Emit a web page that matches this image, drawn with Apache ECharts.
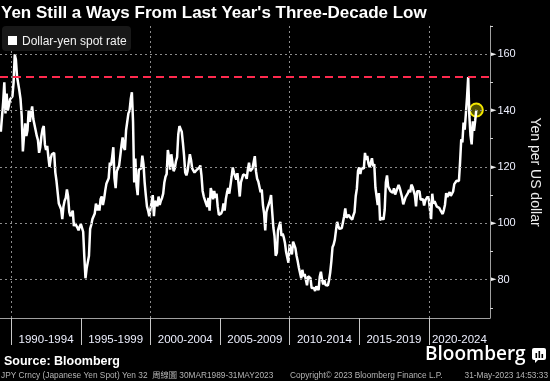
<!DOCTYPE html>
<html><head><meta charset="utf-8">
<script src="https://cdn.jsdelivr.net/npm/echarts@6/dist/echarts.min.js"></script>
<style>html,body{margin:0;padding:0;background:#000;}#c{width:550px;height:381px;}</style>
</head><body><div id="c"></div>
<script>
const chartTitle = "Yen Still a Ways From Last Year's Three-Decade Low";
const seriesName = 'Dollar-yen spot rate';
const yAxisName = 'Yen per US dollar';
const startYear = 1989, startMonth = 3;
// month-end dollar-yen values, Mar 1989 .. May 2023
const usdjpy = [
  132.5, 133, 143, 150, 139, 146, 140, 142, 144, 143.5,
  145, 150, 160, 158, 152, 152.5, 147, 144, 138, 125.5, 131, 135.5,
  131, 133, 140, 136, 139, 141.5, 137, 137, 133, 131, 129.5, 125,
  127, 131, 133.5, 134.5, 128, 126, 127.5, 123.5, 120, 123, 124.5, 124.5,
  125, 118, 115, 111, 107, 107, 105, 101.5, 106, 108, 109, 112,
  109.5, 104, 102.5, 103, 104.5, 99, 100, 100, 98.5, 97.5, 98.8, 99.7,
  99, 97, 88, 80.5, 84, 84.5, 88.5, 98, 99.5, 101.5, 101.5, 103.5,
  107, 104.5, 106.5, 104.5, 108.5, 109.5, 106.5, 108.5, 111.5, 114, 113.5, 116,
  121.5, 120.5, 123.5, 127, 116, 112.5, 118.5, 119, 120.5, 120.5, 127.5, 130.5,
  127, 126, 133, 132.5, 139, 140, 144, 146.5, 136, 114.5, 123, 113.5,
  110, 119, 119.5, 119.5, 124, 121, 114.5, 110, 106, 104.5, 102.5, 102,
  107.5, 110, 102.5, 108, 107.5, 106, 109.5, 106.5, 108, 109, 110.5, 114.5,
  116.5, 117.5, 126, 123.5, 119, 124.5, 125, 118.5, 119.5, 122, 123.5, 131.5,
  134.5, 133.5, 132.5, 128.5, 124, 118, 117, 118.5, 121.5, 124.5, 122.5, 119.5,
  119.5, 118, 118, 119, 119, 119.7, 120.5, 117, 111.5, 109.5, 109.7, 107,
  105.8, 109, 104.5, 112.5, 111, 108.5, 111.5, 109, 110.5, 106, 103, 102.5,
  103.5, 104.5, 107, 104.5, 108.5, 110.8, 112.5, 110.5, 113.5, 116.5, 119.8, 118,
  117.5, 115.5, 117.8, 114, 109.5, 114.5, 114.5, 117.3, 118, 117, 115.8, 119,
  121.5, 118.5, 117.8, 119.5, 121.7, 123.8, 118.5, 115.8, 114.8, 115.3, 111, 112,
  106.5, 103.5, 97.5, 104, 105.5, 106.2, 108, 110, 104, 98.5, 95.5, 88.5,
  89.5, 97.5, 99, 100.5, 95.5, 96.3, 95, 93, 89.8, 90.5, 86, 92.5,
  90.3, 89, 93.5, 94, 91.2, 88.5, 86.5, 84.2, 83.5, 80.5, 83.5, 81.2,
  82, 81.8, 78, 81.2, 81.5, 80.5, 77, 76.6, 77, 76, 77.6, 76.9,
  76.3, 81, 82.8, 80, 78.3, 79.8, 78.1, 78.4, 77.9, 79.8, 82.5, 86.5,
  91.5, 92.5, 94.2, 97.5, 100.5, 99, 98, 98.2, 98.3, 98.4, 102.4, 105.3,
  102, 101.8, 103, 102.2, 101.8, 101.3, 102.8, 104, 109.6, 112.3, 118.6, 119.8,
  117.5, 119.6, 120.1, 119.4, 125, 122.5, 123.9, 121.2, 119.9, 120.6, 123.1, 120.2,
  121, 112.7, 112.6, 106.5, 110.7, 101, 102, 101.5, 101.3, 104.8, 114.5, 117,
  113, 112.7, 111.4, 111.5, 110.8, 112.4, 110.2, 110.2, 112.5, 113.6, 112.5, 112.7,
  109.2, 106.7, 106.3, 109.3, 108.8, 110.7, 111.8, 111, 113.7, 112.9, 113.5, 110,
  106, 111.4, 110.9, 111.4, 108.3, 107.8, 108.6, 106.3, 108.1, 108, 109.5, 108.6,
  109, 101.5, 110.5, 107, 107.8, 107.9, 105.9, 105.9, 105.5, 104.7, 104.1, 103.3,
  104.7, 106.6, 110.7, 109.3, 109.6, 111.1, 109.7, 110, 111.3, 113.9, 113.2, 115.1,
  115.1, 115, 121.7, 129.8, 128.7, 135.7, 133.2, 138.9, 144.7, 151.9, 138, 131.1,
  128, 136.2, 132.8, 136.3, 140.2
];
const periodStarts = [1990, 1995, 2000, 2005, 2010, 2015, 2020];
const periodLabels = ['1990-1994', '1995-1999', '2000-2004', '2005-2009', '2010-2014', '2015-2019', '2020-2024'];
const gridYears = [1990, 2000, 2010, 2020];
const yLabelValues = [80, 100, 120, 140, 160];
const yMinorTicks = [70, 90, 110, 130, 150, 170];
const threeDecadeHigh = 151.95;
const xMin = 1989.19, xMax = 2024.4, yMin = 66.4, yMax = 170;

const seriesData = usdjpy.map((v, i) => [startYear + (startMonth + i) / 12, v]);
const lastPoint = seriesData[seriesData.length - 1];
const labelPos = periodStarts.map(s => (s + Math.min(s + 5, xMax)) / 2);

const gridDash = { color: '#8c8c8c', type: [2, 3], width: 1 };
const markData = []
  .concat(yLabelValues.map(v => ({ yAxis: v, lineStyle: gridDash })))
  .concat(gridYears.map(v => ({ xAxis: v, lineStyle: gridDash })));

const chart = echarts.init(document.getElementById('c'), null, { renderer: 'canvas' });
chart.setOption({
  backgroundColor: '#000',
  animation: false,
  textStyle: { fontFamily: '"Liberation Sans", Arial, sans-serif' },
  grid: { left: 0, right: 47, top: 26, bottom: 63, containLabel: false },
  xAxis: {
    type: 'value', min: xMin, max: xMax,
    axisLine: { show: true, onZero: false, lineStyle: { color: '#a0a0a0', width: 1 } },
    axisTick: { show: true, customValues: periodStarts, length: 27, lineStyle: { color: '#c8c8c8' } },
    axisLabel: {
      show: true, customValues: labelPos, margin: 16, color: '#eef0ff', fontSize: 11.5,
      fontFamily: '"Liberation Sans", sans-serif',
      formatter: v => { const k = labelPos.findIndex(p => Math.abs(p - v) < 0.01); return k >= 0 ? periodLabels[k] : ''; }
    },
    splitLine: { show: false }
  },
  yAxis: {
    type: 'value', position: 'right', min: yMin, max: yMax,
    name: yAxisName, nameLocation: 'middle', nameRotate: -90, nameGap: 38,
    nameTextStyle: { color: '#ececec', fontSize: 14 },
    axisLine: { show: true, lineStyle: { color: '#a0a0a0', width: 1 } },
    axisTick: { show: true, customValues: yMinorTicks, length: 3, inside: false, lineStyle: { color: '#d0d0d0' } },
    axisLabel: {
      show: true, customValues: yLabelValues, margin: 1,
      formatter: v => '{t|\u25BA}{v|' + v + '}',
      rich: {
        t: { fontSize: 7, color: '#eeeeee', fontFamily: '"DejaVu Sans", sans-serif', padding: [0, 1, 0, 0] },
        v: { fontSize: 11, color: '#eef0ff', fontFamily: '"Liberation Sans", sans-serif' }
      }
    },
    splitLine: { show: false }
  },
  series: [
    {
      name: 'grid', type: 'line', data: [], z: 1, silent: true,
      markLine: { silent: true, symbol: ['none', 'none'], label: { show: false }, animation: false, data: markData }
    },
    {
      name: 'high', type: 'line', data: [], z: 4, silent: true,
      markLine: { silent: true, symbol: ['none', 'none'], label: { show: false }, animation: false,
        data: [{ yAxis: threeDecadeHigh, lineStyle: { color: '#ff2a4e', type: [8, 5], width: 2 } }] }
    },
    {
      name: 'latest', type: 'scatter', data: [lastPoint], z: 2, silent: true,
      symbolSize: 13,
      itemStyle: { color: 'rgba(90,90,0,0.9)', borderColor: '#f2e600', borderWidth: 2, opacity: 1 }
    },
    {
      name: seriesName, type: 'line', data: seriesData, z: 3, showSymbol: false, symbol: 'none',
      color: '#ffffff', lineStyle: { color: '#ffffff', width: 2.5 }, sampling: null
    }
  ],
  graphic: [
    { type: 'text', x: 1, y: 13, silent: true,
      style: { text: chartTitle, fill: '#ffffff', fontSize: 17, fontWeight: 'bold', fontFamily: '"Liberation Sans", Arial, sans-serif', verticalAlign: 'middle', align: 'left' } },
    { type: 'rect', silent: true, z: 10, shape: { x: 2, y: 26, width: 129, height: 25, r: 4 }, style: { fill: '#181818' } },
    { type: 'rect', silent: true, z: 11, shape: { x: 8, y: 36, width: 9, height: 9 }, style: { fill: '#ffffff' } },
    { type: 'text', x: 22, y: 41.5, silent: true, z: 11,
      style: { text: seriesName, fill: '#f2f2f2', fontSize: 12, fontFamily: '"Liberation Sans", Arial, sans-serif', verticalAlign: 'middle', align: 'left' } },
    { type: 'text', x: 4, y: 362, silent: true,
      style: { text: 'Source: Bloomberg', fill: '#ffffff', fontSize: 12.5, fontWeight: 'bold', fontFamily: '"Liberation Sans", Arial, sans-serif', verticalAlign: 'middle', align: 'left' } },
    { type: 'text', x: 425, y: 355, silent: true,
      style: { text: 'Bloomberg', fill: '#ffffff', fontSize: 19, fontWeight: 600, fontFamily: '"Open Sans", sans-serif', verticalAlign: 'middle', align: 'left' } },
    { type: 'rect', silent: true, shape: { x: 532, y: 348, width: 14, height: 12, r: 2 }, style: { fill: '#ffffff' } },
    { type: 'polygon', silent: true, shape: { points: [[535, 359], [539, 359], [535, 363]] }, style: { fill: '#ffffff' } },
    { type: 'rect', silent: true, shape: { x: 535.5, y: 353, width: 1.6, height: 5 }, style: { fill: '#000' } },
    { type: 'rect', silent: true, shape: { x: 538.5, y: 351, width: 1.6, height: 7 }, style: { fill: '#000' } },
    { type: 'rect', silent: true, shape: { x: 541.5, y: 354, width: 1.6, height: 4 }, style: { fill: '#000' } },
    { type: 'text', x: 1, y: 375.5, silent: true,
      style: { text: 'JPY Crncy (Japanese Yen Spot) Yen 32  周線圖 30MAR1989-31MAY2023', fill: '#b4b4b4', fontSize: 8.3, fontFamily: '"Liberation Sans", "Noto Sans CJK TC", sans-serif', verticalAlign: 'middle', align: 'left' } },
    { type: 'text', x: 290, y: 375.5, silent: true,
      style: { text: 'Copyright\u00A9 2023 Bloomberg Finance L.P.', fill: '#b4b4b4', fontSize: 8.3, fontFamily: '"Liberation Sans", sans-serif', verticalAlign: 'middle', align: 'left' } },
    { type: 'text', x: 548, y: 375.5, silent: true,
      style: { text: '31-May-2023 14:53:33', fill: '#b4b4b4', fontSize: 8.3, fontFamily: '"Liberation Sans", sans-serif', verticalAlign: 'middle', align: 'right' } }
  ]
});
</script></body></html>
